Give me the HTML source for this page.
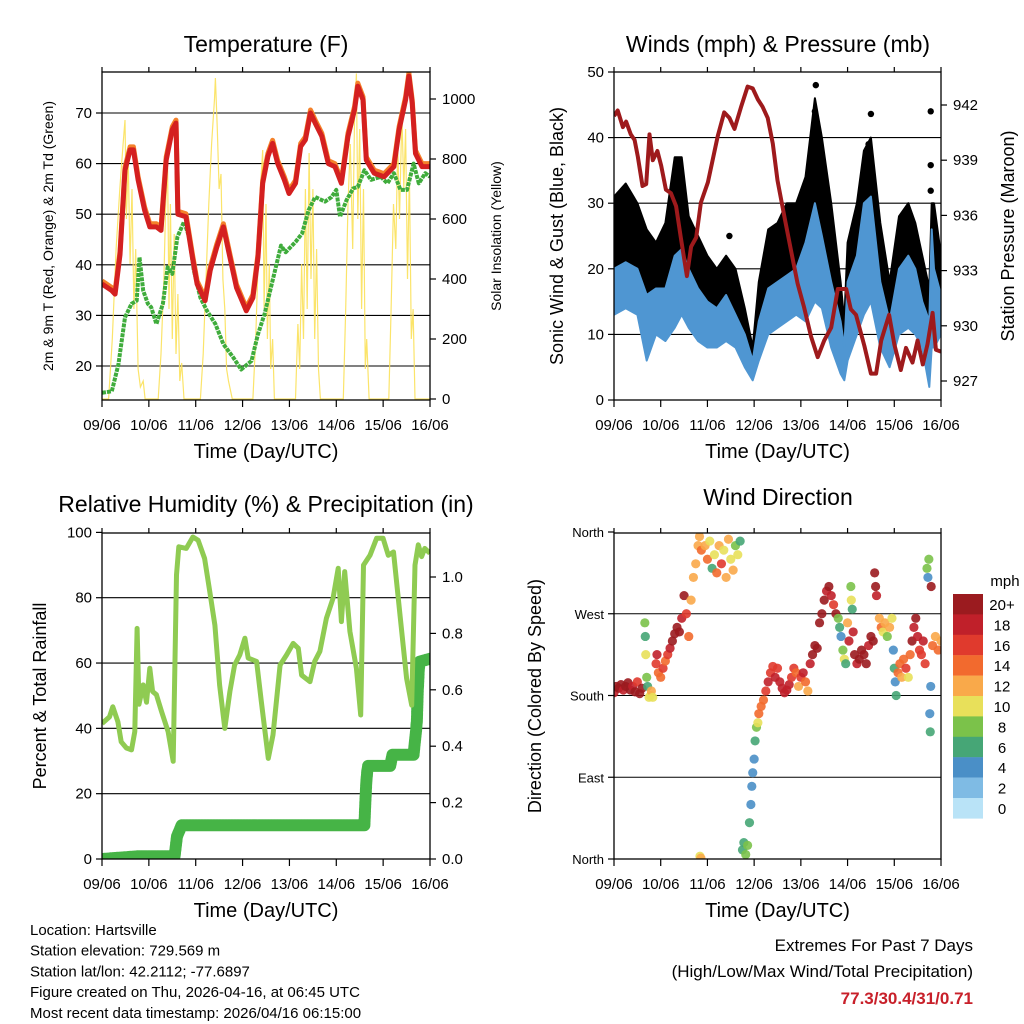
<!DOCTYPE html>
<html><head><meta charset="utf-8"><style>
html,body{margin:0;padding:0;background:#fff}
svg{display:block;font-family:"Liberation Sans",sans-serif}
</style></head><body>
<svg id="root" width="1024" height="1024" viewBox="0 0 1024 1024">
<g id="static"></g>
<g id="marks"></g>
<g id="frames"></g>
</svg>
<script>
// ---- data ----
const dayLabels=["09/06","10/06","11/06","12/06","13/06","14/06","15/06","16/06"];
const tempDays=[0,.21,.28,.385,.49,.6,.67,.77,.91,1.02,1.16,1.26,1.37,1.5,1.58,1.62,1.79,1.93,2.03,2.2,2.31,2.45,2.59,2.73,2.87,3.08,3.22,3.33,3.43,3.54,3.64,3.75,3.89,3.99,4.13,4.24,4.34,4.45,4.55,4.69,4.83,4.97,5.11,5.25,5.39,5.46,5.57,5.64,5.81,6.02,6.23,6.34,6.48,6.55,6.62,6.69,6.83,7];
const tempVals=[36.2,34.9,34.2,42,58.7,62.7,62.7,56.8,50.8,47.5,47.5,46.8,60.7,66.7,68,50,49.5,41.5,36.2,32.9,38.9,43.5,47.5,41.5,35.5,30.9,33.5,41.5,56.1,61.4,64,60,56.8,54.1,56.1,63.4,64.7,70,68,65.4,60,59.4,56.1,65.4,70.7,75.3,72.6,60.7,58.1,57.4,59.4,66.7,72.6,77.3,72,62,59.4,59.4];
const dewDays=[0,.21,.35,.49,.63,.74,.8,.88,.98,1.05,1.16,1.3,1.4,1.5,1.61,1.75,1.86,1.96,2.1,2.24,2.42,2.59,2.8,2.97,3.19,3.33,3.47,3.64,3.82,3.92,4.13,4.27,4.41,4.55,4.76,4.9,5.0,5.08,5.22,5.36,5.46,5.6,5.74,5.95,6.09,6.23,6.37,6.51,6.65,6.76,6.9,7];
const dewVals=[14.7,15,20.3,29.6,32.3,32.9,41.5,34.9,32.3,31.6,28.3,32.3,39.5,38.2,45.5,48.5,45.5,38.9,33.5,30.9,28.3,24.3,21.7,19.3,21,26.3,30.3,36.9,43.8,42.5,44.5,46.2,50.8,53.4,52.5,53.4,54.8,49.5,52.8,55.1,55.4,58.7,56.8,57.4,56.1,58.1,54.8,54.8,60,56.1,58.1,57.4];
const solarDays=[0,.14,.22,.3,.38,.45,.49,.52,.56,.6,.64,.68,.72,.77,.82,.88,.92,1.2,1.26,1.32,1.36,1.4,1.43,1.46,1.5,1.54,1.58,1.62,1.66,1.7,1.75,2.1,2.16,2.22,2.28,2.34,2.4,2.42,2.46,2.5,2.54,2.58,2.62,2.66,2.7,2.78,3.22,3.28,3.34,3.38,3.43,3.46,3.5,3.53,3.57,3.6,3.64,3.68,4.13,4.18,4.22,4.26,4.3,4.34,4.38,4.42,4.46,4.5,4.54,4.58,4.62,4.66,5.15,5.2,5.25,5.3,5.35,5.39,5.43,5.46,5.5,5.54,5.58,5.62,5.65,5.7,6.12,6.17,6.22,6.27,6.31,6.35,6.4,6.44,6.48,6.52,6.56,6.6,6.64,6.68,7];
const solarVals=[0,0,200,500,700,850,930,600,800,450,700,300,500,100,40,60,0,0,150,400,650,770,300,650,200,550,150,350,60,120,0,0,150,400,650,850,1000,1070,900,700,750,400,300,100,60,0,0,200,500,700,830,300,650,200,450,100,200,0,0,250,100,450,200,700,300,820,400,700,200,500,100,0,0,300,650,850,500,950,1085,600,900,300,700,100,200,0,0,300,650,500,850,600,950,700,900,400,750,200,300,0,0];
const pressDays=[0,.08,.19,.26,.36,.44,.51,.61,.69,.76,.83,.93,1.01,1.11,1.22,1.33,1.43,1.56,1.65,1.76,1.86,2.01,2.22,2.36,2.47,2.58,2.72,2.86,2.97,3.08,3.18,3.29,3.4,3.5,3.65,3.79,3.93,4.07,4.22,4.36,4.5,4.65,4.79,4.97,5.07,5.18,5.36,5.5,5.61,5.72,5.89,6.0,6.14,6.25,6.39,6.5,6.61,6.71,6.82,6.89,7];
const pressVals=[941.4,941.7,940.8,941.1,940.4,940.1,939.2,937.6,937.7,940.4,939,939.5,938.7,937.4,937.2,936.5,934.8,932.7,934.3,934.8,936.7,937.8,940.3,941.6,941.3,940.7,941.9,943,942.9,942.3,941.9,941.3,939.9,937.9,935.9,934.1,932.3,931,929.4,928.3,929.2,929.9,932,932,930.9,930.6,928.9,927.4,927.4,929.2,930.6,929,927.6,928.8,928,929.2,927.9,929,930.7,928.7,928.6];
const windDays=[0,.25,.5,.7,.9,1.1,1.3,1.45,1.6,1.8,2.0,2.2,2.4,2.6,2.8,2.97,3.1,3.3,3.5,3.7,3.9,4.1,4.3,4.45,4.65,4.85,4.93,5.0,5.2,5.35,5.5,5.7,5.9,6.1,6.3,6.45,6.6,6.75,6.8,6.85,7.0];
const windLo=[13,14,13,6,10,9,11,13,11,9,8,8,9,8,5,3,6,10,11,12,13,12,15,14,8,4,3,6,10,13,15,8,5,10,11,10,8,2,8,8,10];
const windHi=[20,21,20,16,17,17,22,23,20,17,15,14,16,13,10,6,12,17,18,19,20,24,30,25,18,12,8,18,22,30,31,18,12,20,22,20,15,12,26,20,16];
const gustLo=[18,17,18,12,14,12,15,18,15,13,10,10,13,9,7,5,9,15,16,17,18,18,25,22,14,7,5,9,16,20,22,13,7,15,16,15,11,4,12,12,13];
const gustHi=[31,33,30,26,24,27,37,37,28,25,22,20,22,20,14,8,18,26,27,30,30,34,46,40,30,18,12,24,30,38,40,27,18,28,30,27,22,17,30,30,22];
const gustOutDays=[4.32,5.5,6.78,6.78,6.78,2.47,4.3,5.45];
const gustOutVals=[48,43.6,44,35.8,31.9,25,44,39];
const rhDays=[0,.16,.23,.34,.41,.52,.63,.70,.75,.79,.88,.95,1.02,1.08,1.16,1.27,1.41,1.52,1.59,1.64,1.80,1.94,2.05,2.19,2.30,2.41,2.51,2.62,2.73,2.83,2.94,3.05,3.12,3.30,3.40,3.55,3.65,3.80,3.94,4.08,4.19,4.26,4.44,4.54,4.65,4.79,4.93,5.04,5.11,5.18,5.29,5.43,5.52,5.58,5.72,5.86,6.00,6.11,6.22,6.36,6.50,6.61,6.68,6.75,6.82,6.89,7];
const rhVals=[41.5,43.5,46.6,42,35.9,34,33.4,39,70.6,47.4,53.3,48,58.4,51.3,50.3,45.2,39,29.9,87,95.6,95.1,98.6,97.6,92,81.8,71.6,53.3,40,51.3,59.4,62.5,67.6,61.5,60.5,48.3,30.8,38,59.4,62.5,66,64.5,56.3,54.3,60.5,63.6,73.7,79.8,89,72.7,88,69.7,58.4,44.1,90,93,98.2,98.2,93,94,74.7,55.3,47.1,90,96.2,92.6,95.1,93.6];
const precipDays=[0,.8,1.55,1.6,1.7,5.6,5.62,5.64,5.66,5.68,6.15,6.2,6.65,6.68,6.7,6.72,6.74,6.75,6.76,6.78,7];
const precipVals=[0,.01,.01,.08,.12,.12,.20,.27,.31,.33,.33,.37,.37,.42,.45,.49,.60,.63,.67,.70,.71];
const dirDays=[0,.05,.1,.15,.2,.25,.3,.35,.4,.45,.5,.55,.6,.66,.67,.68,.7,.72,.75,.78,.8,.83,.9,.92,.95,1.0,1.05,1.1,1.15,1.2,1.25,1.3,1.35,1.4,1.45,1.5,1.55,1.6,1.65,1.7,1.75,1.8,1.83,1.87,1.84,1.86,1.95,2.0,2.05,2.1,2.15,2.2,2.25,2.3,2.35,2.4,2.45,2.5,2.55,2.6,2.65,2.7,2.75,2.78,2.82,2.86,2.9,2.93,2.95,2.97,3.0,3.02,3.05,3.08,3.1,3.15,3.2,3.25,3.3,3.35,3.4,3.45,3.5,3.55,3.6,3.65,3.7,3.75,3.8,3.85,3.9,3.95,4.0,4.05,4.1,4.15,4.2,4.25,4.3,4.35,4.4,4.45,4.5,4.55,4.6,4.65,4.7,4.75,4.8,4.83,4.86,4.9,4.93,4.96,5.0,5.03,5.07,5.08,5.1,5.12,5.15,5.2,5.25,5.3,5.35,5.4,5.45,5.5,5.55,5.58,5.6,5.62,5.68,5.72,5.76,5.8,5.85,5.9,5.95,5.98,6.0,6.02,6.04,6.08,6.12,6.16,6.2,6.25,6.3,6.34,6.38,6.42,6.46,6.5,6.54,6.58,6.62,6.66,6.7,6.72,6.74,6.76,6.77,6.78,6.79,6.82,6.88,6.94,7.0];
const dirVals=[183,190,188,192,186,190,194,186,190,184,195,182,188,260,245,225,200,190,178,180,185,178,215,225,205,200,210,218,225,232,240,248,255,250,265,290,270,245,285,310,325,345,355,340,3,1,345,330,350,320,335,315,345,325,340,310,352,330,318,345,335,350,10,18,5,15,40,60,80,95,110,130,145,150,160,168,175,185,195,205,212,200,210,195,188,183,186,192,200,210,205,190,200,205,195,185,215,225,235,232,260,270,285,295,300,290,280,270,265,255,245,230,220,215,260,240,300,285,275,250,225,215,220,230,225,215,235,245,240,315,300,290,265,255,250,260,245,255,265,230,210,195,180,205,215,200,220,210,200,225,240,255,265,245,230,225,240,215,320,310,330,160,140,190,300,235,245,230,240];
const dirSpeed=[18,20,20,20,18,20,20,20,18,20,16,20,20,8,6,10,8,6,10,10,12,10,16,18,14,14,16,14,16,18,20,20,20,20,18,20,16,14,12,12,12,12,12,14,10,12,12,14,10,6,10,14,12,16,10,12,12,10,12,8,10,6,6,6,8,8,6,4,4,4,4,6,8,10,14,14,14,16,18,16,16,18,16,18,18,18,18,18,16,16,14,12,16,18,14,12,18,20,20,20,20,20,20,18,20,18,16,20,8,6,4,8,10,6,12,18,8,10,6,18,20,18,20,20,20,20,18,20,20,20,20,18,12,14,10,12,8,12,10,4,6,4,6,14,14,12,14,16,10,14,20,18,20,18,16,16,18,16,8,4,8,4,6,4,20,14,12,14,12];
const speedColors=["#b9e3f7","#7fbbe4","#4a8fc7","#46a676","#7bc24a","#e8e05a","#f9a94a","#f26a2e","#e03a2d","#c0202a","#9b1b1f"];
const speedLabels=["0","2","4","6","8","10","12","14","16","18","20+"];
const tempTicks=[20,30,40,50,60,70];
const solarTicks=[0,200,400,600,800,1000];
const windTicks=[0,10,20,30,40,50];
const pressTicks=[927,930,933,936,939,942];
const rhTicks=[0,20,40,60,80,100];
const precipTicks=[0,0.2,0.4,0.6,0.8,1.0];
const dirTicks=[0,90,180,270,360];
const dirTickLabels=["North","East","South","West","North"];

// ---- geometry ----
const P1={x0:102,x1:430,y0:72,y1:400};
const P2={x0:614,x1:941,y0:72,y1:400};
const P3={x0:102,x1:430,y0:533,y1:859};
const P4={x0:614,x1:941,y0:533,y1:859};
const NS="http://www.w3.org/2000/svg";
const st=document.getElementById('static'),mk=document.getElementById('marks'),fr=document.getElementById('frames');
function el(tag,attrs,parent){const e=document.createElementNS(NS,tag);for(const k in attrs)e.setAttribute(k,attrs[k]);(parent||mk).appendChild(e);return e;}
function txt(s,x,y,size,anchor,parent,extra){const t=el('text',Object.assign({x:x,y:y,'font-size':size,'text-anchor':anchor||'middle',fill:'#000'},extra||{}),parent||st);t.textContent=s;return t;}
function xs(P,d){return P.x0+(P.x1-P.x0)*d/7;}
const yT=v=>366-(v-20)*5.06, ySol=v=>399-v*0.3;
const yW=v=>400-v*6.56, yP=v=>381-(v-927)*18.4;
const yRH=v=>859-v*3.266, yPr=v=>859-v*282;
const yD=v=>859-v*327/360;
function pathFrom(P,days,vals,yf){return days.map((d,i)=>(i?'L':'M')+xs(P,d).toFixed(1)+','+yf(vals[i]).toFixed(1)).join('');}
function clipFor(P,id){const c=el('clipPath',{id:id},st);el('rect',{x:P.x0,y:P.y0,width:P.x1-P.x0,height:P.y1-P.y0},c);}
clipFor(P1,'c1');clipFor(P2,'c2');clipFor(P3,'c3');clipFor(P4,'c4');

function frame(P,name){
  const r=el('rect',{x:P.x0,y:P.y0,width:P.x1-P.x0,height:P.y1-P.y0,fill:'none',stroke:'#000','stroke-width':1.3},fr);
  
  
  for(let k=0;k<8;k++){const x=xs(P,k);
    const t=el('line',{x1:x,x2:x,y1:P.y1,y2:P.y1+7,stroke:'#000','stroke-width':1.2},fr);
    
    
    const t2=el('line',{x1:x,x2:x,y1:P.y0,y2:P.y0-5,stroke:'#000','stroke-width':1.2},fr);
    
    
    const l=txt(dayLabels[k],x,P.y1+30,15,'middle',fr);
    
    
  }
  const xt=txt('Time (Day/UTC)',(P.x0+P.x1)/2,P.y1+58,20,'middle',fr);
  
  
}
function grid(P,vals,yf,name){vals.forEach(v=>{const y=yf(v);
  const g=el('line',{x1:P.x0,x2:P.x1,y1:y,y2:y,stroke:'#000','stroke-width':1.1},st);
  
  });}
function leftTicks(P,vals,yf,fmt,size){vals.forEach(v=>{const y=yf(v);
  el('line',{x1:P.x0-6,x2:P.x0,y1:y,y2:y,stroke:'#000','stroke-width':1.2},fr);
  const t=txt(fmt(v),P.x0-10,y+5,size||15,'end',fr);
  
  });}
function rightTicks(P,vals,yf,fmt){vals.forEach(v=>{const y=yf(v);
  el('line',{x1:P.x1,x2:P.x1+6,y1:y,y2:y,stroke:'#000','stroke-width':1.2},fr);
  const t=txt(fmt(v),P.x1+12,y+5,15,'start',fr);
  
  });}
function vlabel(s,x,y,size,name){const t=txt(s,x,y,size,'middle',st,{transform:'rotate(-90 '+x+' '+y+')'});
  
  }
function title(s,x,y,name){const t=txt(s,x,y,23,'middle',st);
  
  }

// ---- Panel 1: Temperature ----
title('Temperature (F)',266,52,'temperature-title');
grid(P1,tempTicks,yT,'temp-gridline');
const g1=el('g',{'clip-path':'url(#c1)'});


const sol=el('path',{d:pathFrom(P1,solarDays,solarVals,ySol),fill:'none',stroke:'#fbe15a','stroke-width':1.2,opacity:0.9},g1);


const dew=el('path',{d:pathFrom(P1,dewDays,dewVals,yT),fill:'none',stroke:'#3fac3c','stroke-width':4,'stroke-dasharray':'4 1','stroke-linejoin':'round'},g1);


const t9=el('path',{d:pathFrom(P1,tempDays,tempVals.map(v=>v+0.6),yT),fill:'none',stroke:'#f4812a','stroke-width':5,'stroke-linejoin':'round'},g1);


const t2=el('path',{d:pathFrom(P1,tempDays,tempVals,yT),fill:'none',stroke:'#d42020','stroke-width':5,'stroke-linejoin':'round'},g1);


frame(P1,'temperature');
leftTicks(P1,tempTicks,yT,v=>v);
rightTicks(P1,solarTicks,ySol,v=>v);
vlabel('2m & 9m T (Red, Orange) & 2m Td (Green)',53,236,14,'temp-y-axis-title');
vlabel('Solar Insolation (Yellow)',501,236,14,'solar-y-axis-title');

// ---- Panel 2: Winds ----
title('Winds (mph) & Pressure (mb)',778,52,'winds-title');
grid(P2,[10,20,30,40],yW,'wind-gridline');
const g2=el('g',{'clip-path':'url(#c2)'});


function band(P,days,lo,hi,yf){let a=days.map((d,i)=>xs(P,d).toFixed(1)+','+yf(hi[i]).toFixed(1));let b=days.map((d,i)=>xs(P,d).toFixed(1)+','+yf(lo[i]).toFixed(1)).reverse();return a.concat(b).join(' ');}
const gb=el('polygon',{points:band(P2,windDays,gustLo,gustHi,yW),fill:'#000',stroke:'#000','stroke-width':2,'stroke-linejoin':'round'},g2);


gustOutDays.forEach((d,i)=>{const c=el('circle',{cx:xs(P2,d),cy:yW(gustOutVals[i]),r:3.2,fill:'#000'},g2);
  
  });
const wb=el('polygon',{points:band(P2,windDays,windLo,windHi,yW),fill:'#4f96d2',stroke:'#4f96d2','stroke-width':2,'stroke-linejoin':'round'},g2);


const pl=el('path',{d:pathFrom(P2,pressDays,pressVals,yP),fill:'none',stroke:'#9e1a1c','stroke-width':4,'stroke-linejoin':'round'},g2);


frame(P2,'winds');
leftTicks(P2,windTicks,yW,v=>v);
rightTicks(P2,pressTicks,yP,v=>v);
vlabel('Sonic Wind & Gust (Blue, Black)',563,236,18,'wind-y-axis-title');
vlabel('Station Pressure (Maroon)',1014,236,18,'pressure-y-axis-title');

// ---- Panel 3: RH & Precip ----
title('Relative Humidity (%) & Precipitation (in)',266,512,'humidity-title');
grid(P3,[20,40,60,80],yRH,'rh-gridline');
const g3=el('g',{'clip-path':'url(#c3)'});


(function(){let pts=[];for(let i=0;i<precipDays.length-1;i++){const xa=xs(P3,precipDays[i]),xb=xs(P3,precipDays[i+1]);const ya=yPr(precipVals[i]),yb=yPr(precipVals[i+1]);const n=Math.max(1,Math.ceil(Math.hypot(xb-xa,yb-ya)/1.5));for(let k=0;k<n;k++){pts.push([xa+(xb-xa)*k/n,ya+(yb-ya)*k/n]);}}
  pts.push([xs(P3,7),yPr(precipVals[precipVals.length-1])]);
  const d=pts.map(p=>'M'+p[0].toFixed(1)+','+p[1].toFixed(1)+'h0').join('');
  const pp=el('path',{d:d,stroke:'#46b446','stroke-width':12,'stroke-linecap':'round',fill:'none'},g3);
  
  })();
const rh=el('path',{d:pathFrom(P3,rhDays,rhVals,yRH),fill:'none',stroke:'#8fcb52','stroke-width':5,'stroke-linejoin':'round'},g3);


frame(P3,'humidity');
leftTicks(P3,rhTicks,yRH,v=>v);
rightTicks(P3,precipTicks,yPr,v=>v.toFixed(1));
vlabel('Percent & Total Rainfall',46,696,18,'rh-y-axis-title');

// ---- Panel 4: Wind direction ----
title('Wind Direction',778,505,'wind-direction-title');
grid(P4,[90,180,270],yD,'dir-gridline');
const g4=el('g',{'clip-path':'url(#c4)'});


dirDays.forEach((d,i)=>{const idx=Math.min(10,Math.floor(dirSpeed[i]/2));
  const c=el('circle',{cx:xs(P4,d),cy:yD(dirVals[i]),r:4.6,fill:speedColors[idx],opacity:0.9},g4);
  
  });
frame(P4,'direction');
leftTicks(P4,dirTicks,yD,v=>dirTickLabels[dirTicks.indexOf(v)],13);
vlabel('Direction (Colored By Speed)',541,696,18,'dir-y-axis-title');
const cb=el('g',{},st);


const mph=txt('mph',1005,586,15,'middle',cb);


speedColors.slice().reverse().forEach((c,i)=>{const y=594+i*20.4;
  const r=el('rect',{x:953,y:y,width:30,height:20.6,fill:c},cb);
  
  
  const l=txt(speedLabels[10-i],1002,y+16,15,'middle',cb);
  
  });

// ---- footer ----
const info=["Location: Hartsville","Station elevation: 729.569 m","Station lat/lon: 42.2112; -77.6897","Figure created on Thu, 2026-04-16, at 06:45 UTC","Most recent data timestamp: 2026/04/16 06:15:00"];
info.forEach((s,i)=>{const t=txt(s,30,935+i*20.7,15,'start',st);
  
  });
const e1=txt('Extremes For Past 7 Days',973,951,17,'end',st);


const e2=txt('(High/Low/Max Wind/Total Precipitation)',973,977,17,'end',st);


const e3=txt('77.3/30.4/31/0.71',973,1004,17,'end',st,{fill:'#c8202a','font-weight':'bold'});


</script>
</body></html>
